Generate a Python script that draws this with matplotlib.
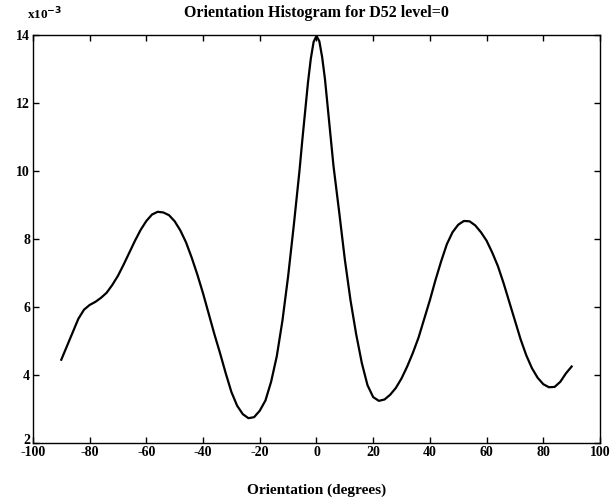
import matplotlib
matplotlib.use("Agg")
import matplotlib.pyplot as plt
import matplotlib.transforms as mtransforms

# Orientation histogram (values in units of 1e-3)
orientation = (list(range(-90, -6, 2)) + list(range(-6, 7, 1))
               + list(range(8, 91, 2)))
density = [
    4.45, 4.85, 5.25, 5.65, 5.92, 6.06, 6.15, 6.27, 6.42, 6.65,   # -90 .. -72
    6.92, 7.25, 7.60, 7.95, 8.27, 8.53, 8.72, 8.80, 8.78, 8.70,   # -70 .. -52
    8.52, 8.25, 7.90, 7.45, 6.95, 6.40, 5.80, 5.20, 4.64, 4.05,   # -50 .. -32
    3.50, 3.10, 2.85, 2.73, 2.76, 2.95, 3.25, 3.80, 4.55, 5.60,   # -30 .. -12
    6.90, 8.40,                                                    # -10 .. -8
    10.0, 10.9, 11.75, 12.6, 13.3, 13.8, 13.97,                    # -6 .. 0
    13.82, 13.35, 12.7, 11.85, 11.0, 10.15,                        # 1 .. 6
    8.80, 7.40, 6.20, 5.20, 4.35, 3.70, 3.35, 3.24, 3.28, 3.42,   # 8 .. 26
    3.62, 3.90, 4.25, 4.65, 5.10, 5.65, 6.20, 6.80, 7.35, 7.85,   # 28 .. 46
    8.20, 8.42, 8.53, 8.52, 8.40, 8.20, 7.95, 7.60, 7.20, 6.70,   # 48 .. 66
    6.15, 5.60, 5.05, 4.58, 4.20, 3.92, 3.73, 3.64, 3.65, 3.80,   # 68 .. 86
    4.05, 4.25,                                                    # 88 .. 90
]
xticks = [-100, -80, -60, -40, -20, 0, 20, 40, 60, 80, 100]
yticks = [2, 4, 6, 8, 10, 12, 14]

plt.rcParams['font.family'] = ['Liberation Serif', 'DejaVu Serif']
plt.rcParams['font.weight'] = 'bold'

fig = plt.figure(figsize=(6.10, 5.04), dpi=100)
ax = fig.add_axes([0.054, 0.121, 0.9296, 0.8096])

ax.plot(orientation, density, color='black', linewidth=1.6,
        solid_joinstyle='round')

ax.set_xlim(-100, 100)
ax.set_ylim(2, 14)
ax.set_xticks(xticks)
ax.set_yticks(yticks)
ax.set_xticklabels([str(t) for t in xticks], fontsize=10, fontweight='bold')
ax.set_yticklabels([str(t) for t in yticks], fontsize=10, fontweight='bold')
ax.tick_params(direction='in', top=True, right=True, length=4, width=1.0, pad=2)
for s in ax.spines.values():
    s.set_linewidth(1.0)

# lift the lowest y label slightly so it clears the -100 label
lowest = ax.get_yticklabels()[0]
lowest.set_transform(lowest.get_transform() +
                     mtransforms.ScaledTranslation(0, 3 / 72, fig.dpi_scale_trans))

ax.set_title('Orientation Histogram for D52 level=0', fontsize=11.5,
             fontweight='bold', pad=13)
ax.set_xlabel('Orientation (degrees)', fontsize=11, fontweight='bold', labelpad=18)
ax.text(-0.01, 1.03, r'x10$^{\mathbf{-3}}$', transform=ax.transAxes,
        fontsize=9.5, fontweight='bold', ha='left', va='bottom')

fig.savefig('out.png', dpi=100)
